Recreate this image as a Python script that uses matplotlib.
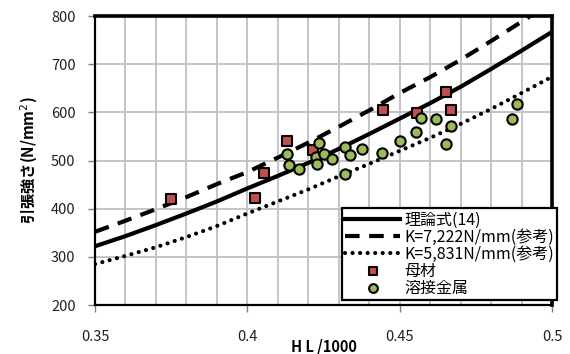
import numpy as np
import matplotlib
matplotlib.use("Agg")
import matplotlib.pyplot as plt

plt.rcParams['font.family'] = ['Noto Sans CJK JP', 'DejaVu Sans']

# curves
hl_curve = [0.35, 0.36, 0.37, 0.38, 0.39, 0.40, 0.41, 0.42, 0.43, 0.44,
            0.45, 0.46, 0.47, 0.48, 0.49, 0.50]
theory = [322, 343, 366, 390, 415, 442, 468, 495, 524, 555,
          587, 619, 653, 690, 728, 767]
k7222 = [352, 375, 399, 424, 451, 476, 506, 537, 570, 604,
         640, 673, 709, 748, 788, 830]
k5831 = [285, 302, 320, 341, 364, 390, 415, 440, 467, 493,
         520, 547, 576, 607, 640, 674]

# base metal (母材)
base_x = [0.375, 0.4025, 0.4055, 0.413, 0.4215, 0.4445, 0.4558, 0.4651, 0.4669]
base_y = [420, 423, 474, 540, 521, 604, 598, 643, 605]

# weld metal (溶接金属)
weld_x = [0.4130, 0.4137, 0.4168, 0.4226, 0.4228, 0.4235, 0.4250, 0.4278,
          0.4319, 0.4320, 0.4337, 0.4378, 0.4441, 0.4500, 0.4552, 0.4571,
          0.4618, 0.4652, 0.4669, 0.4868, 0.4884]
weld_y = [514, 491, 482, 508, 493, 536, 514, 504, 527, 473, 511, 524, 516,
          541, 560, 589, 587, 535, 571, 586, 618]

fig = plt.figure(figsize=(5.7, 3.54), dpi=100)
ax = fig.add_axes([0.1667, 0.1384, 0.8017, 0.8164])

ax.plot(hl_curve, theory, color='black', lw=3, label='理論式(14)', zorder=3)
ax.plot(hl_curve, k7222, color='black', lw=3, linestyle=(0, (3.5, 2.3)),
        label='K=7,222N/mm(参考)', zorder=3)
ax.plot(hl_curve, k5831, color='black', lw=3, linestyle=(0, (0.01, 1.8)),
        dash_capstyle='round', label='K=5,831N/mm(参考)', zorder=3)
ax.scatter(base_x, base_y, marker='s', s=50, color='#C0504D',
           edgecolor='black', linewidth=1.5, label='母材', zorder=4)
ax.scatter(weld_x, weld_y, marker='o', s=55, color='#9BBB59',
           edgecolor='black', linewidth=1.5, label='溶接金属', zorder=4)

ax.set_xlim(0.35, 0.5)
ax.set_ylim(200, 800)
ax.set_xticks([0.35, 0.4, 0.45, 0.5])
ax.set_xticklabels(['0.35', '0.4', '0.45', '0.5'])
ax.set_xticks(np.arange(0.36, 0.5, 0.01), minor=True)
ax.set_yticks(np.arange(200, 801, 100))
ax.grid(True, which='both', axis='x', color='#BFBFBF', lw=1.3)
ax.grid(True, which='major', axis='y', color='#BFBFBF', lw=1.3)
ax.set_axisbelow(True)
ax.tick_params(axis='x', which='minor', length=0)
ax.tick_params(axis='both', which='major', length=5, width=1, color='#808080',
               labelsize=10.5, labelcolor='#202020')
ax.tick_params(axis='x', which='major', pad=13)
ax.tick_params(axis='y', which='major', pad=9)

for side in ['top', 'right']:
    ax.spines[side].set_linewidth(2.6)
for side in ['left', 'bottom']:
    ax.spines[side].set_linewidth(1.6)

ax.set_xlabel('H L /1000', fontsize=10.5, fontweight='bold', labelpad=-4)
ax.set_ylabel('引張強さ(N/mm$^2$)', fontsize=11, fontweight='bold', labelpad=8)

leg = ax.legend(loc='lower right', bbox_to_anchor=(0.978, 0.153),
                bbox_transform=fig.transFigure, fontsize=11.5, frameon=True,
                fancybox=False, edgecolor='black', framealpha=1,
                handlelength=3.4, handletextpad=0.3, labelspacing=0.0,
                borderpad=0.2, borderaxespad=0, scatterpoints=1,
                markerscale=0.85)
leg.get_frame().set_linewidth(1.6)
leg.set_zorder(5)

fig.savefig('out.png', dpi=100)
